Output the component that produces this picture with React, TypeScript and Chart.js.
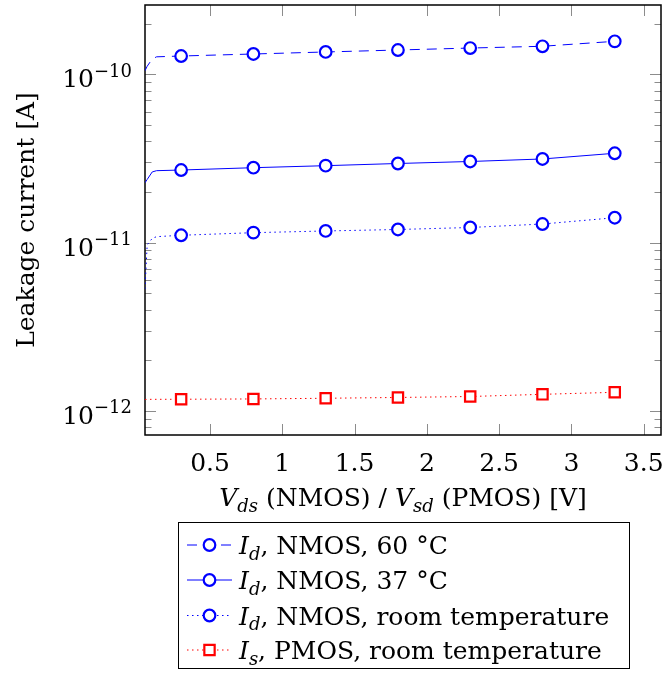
import React, { useEffect, useRef } from 'react';
import { Chart, registerables } from 'chart.js';

Chart.register(...registerables);

// ---- data ----
const startV = [0.05, 0.065, 0.1, 0.13];
const markerV = [0.3, 0.8, 1.3, 1.8, 2.3, 2.8, 3.3];

const id60Start = [1.05e-10, 1.116e-10, 1.233e-10, 1.27e-10];
const id60 = [1.284e-10, 1.32e-10, 1.357e-10, 1.394e-10, 1.432e-10, 1.467e-10, 1.57e-10];

const id37Start = [2.27e-11, 2.372e-11, 2.63e-11, 2.676e-11];
const id37 = [2.7e-11, 2.787e-11, 2.865e-11, 2.952e-11, 3.034e-11, 3.14e-11, 3.395e-11];

const idRTStart = [5.3e-12, 9.7e-12, 1.06e-11, 1.085e-11];
const idRT = [1.106e-11, 1.146e-11, 1.173e-11, 1.197e-11, 1.23e-11, 1.29e-11, 1.406e-11];

const isRTStart = [1.17e-12, 1.172e-12, 1.173e-12, 1.173e-12];
const isRT = [1.174e-12, 1.179e-12, 1.19e-12, 1.203e-12, 1.219e-12, 1.256e-12, 1.291e-12];

const xTicks = [0.5, 1, 1.5, 2, 2.5, 3, 3.5];
const yTicks = [1e-12, 1e-11, 1e-10];
const yTickExponents = ['\u221212', '\u221211', '\u221210'];

const legendTexts = [
  { main: 'I', sub: 'd', rest: ', NMOS, 60 \u00B0C' },
  { main: 'I', sub: 'd', rest: ', NMOS, 37 \u00B0C' },
  { main: 'I', sub: 'd', rest: ', NMOS, room temperature' },
  { main: 'I', sub: 's', rest: ', PMOS, room temperature' },
];

const BLUE = '#0000ff';
const RED = '#ff0000';
const FONT = '"DejaVu Serif", serif';
const FS = 25;

const seriesStyles = [
  { color: BLUE, dash: [10, 7], point: 'circle', radius: 5.8 },
  { color: BLUE, dash: [], point: 'circle', radius: 5.8 },
  { color: BLUE, dash: [1.5, 3.5], point: 'circle', radius: 5.8 },
  { color: RED, dash: [1.5, 3.5], point: 'rect', radius: 7.3 },
];

type Run = { t: string; it?: boolean; sub?: boolean; sup?: boolean };

function drawRuns(ctx: CanvasRenderingContext2D, runs: Run[], x: number, base: number, size: number, align: 'left' | 'center' | 'right') {
  const fontOf = (r: Run) => `${r.it ? 'italic ' : ''}${r.sub || r.sup ? Math.round(size * 0.7) : size}px ${FONT}`;
  let total = 0;
  const ws = runs.map((r) => {
    ctx.font = fontOf(r);
    const w = ctx.measureText(r.t).width;
    total += w;
    return w;
  });
  let cx = align === 'center' ? x - total / 2 : align === 'right' ? x - total : x;
  ctx.textAlign = 'left';
  ctx.textBaseline = 'alphabetic';
  runs.forEach((r, i) => {
    ctx.font = fontOf(r);
    const yy = r.sub ? base + size * 0.22 : r.sup ? base - size * 0.42 : base;
    ctx.fillText(r.t, cx, yy);
    cx += ws[i];
  });
}

function drawMarker(ctx: CanvasRenderingContext2D, style: string, x: number, y: number, r: number, color: string) {
  ctx.save();
  ctx.setLineDash([]);
  ctx.fillStyle = '#fff';
  ctx.strokeStyle = color;
  ctx.lineWidth = 2.2;
  ctx.beginPath();
  if (style === 'rect') {
    const s = r * Math.SQRT1_2;
    ctx.rect(x - s, y - s, 2 * s, 2 * s);
  } else {
    ctx.arc(x, y, r, 0, Math.PI * 2);
  }
  ctx.fill();
  ctx.stroke();
  ctx.restore();
}

const framePlugin = {
  id: 'frameTicks',
  beforeDatasetsDraw(chart: any) {
    const { ctx, chartArea: a, scales } = chart;
    const x = scales.x;
    const y = scales.y;
    ctx.save();
    ctx.strokeStyle = '#8c8c8c';
    ctx.lineWidth = 1;
    ctx.beginPath();
    for (const v of xTicks) {
      const px = Math.round(x.getPixelForValue(v)) + 0.5;
      ctx.moveTo(px, a.bottom);
      ctx.lineTo(px, a.bottom - 11);
      ctx.moveTo(px, a.top);
      ctx.lineTo(px, a.top + 11);
    }
    for (let d = -13; d <= -9; d++) {
      for (let m = 1; m <= 9; m++) {
        const v = m * Math.pow(10, d);
        if (v < y.min || v > y.max) continue;
        const len = m === 1 ? 11 : 6.5;
        const py = Math.round(y.getPixelForValue(v)) + 0.5;
        ctx.moveTo(a.left, py);
        ctx.lineTo(a.left + len, py);
        ctx.moveTo(a.right, py);
        ctx.lineTo(a.right - len, py);
      }
    }
    ctx.stroke();
    ctx.strokeStyle = '#000';
    ctx.lineWidth = 1.5;
    ctx.strokeRect(a.left, a.top, a.right - a.left, a.bottom - a.top);
    ctx.restore();
  },
  afterDraw(chart: any) {
    const { ctx, chartArea: a, scales } = chart;
    const y = scales.y;
    ctx.save();
    ctx.fillStyle = '#000';
    // y tick labels with superscript exponents
    yTicks.forEach((v, i) => {
      const py = y.getPixelForValue(v);
      drawRuns(ctx, [{ t: '10' }, { t: yTickExponents[i], sup: true }], a.left - 13, py + 13, FS, 'right');
    });
    // x-axis title
    drawRuns(
      ctx,
      [
        { t: 'V', it: true },
        { t: 'ds', it: true, sub: true },
        { t: ' (NMOS) / ' },
        { t: 'V', it: true },
        { t: 'sd', it: true, sub: true },
        { t: ' (PMOS) [V]' },
      ],
      (a.left + a.right) / 2,
      506,
      FS,
      'center'
    );
    // legend box
    const bx = 178.5, by = 522.5, bw = 451, bh = 146;
    ctx.strokeStyle = '#000';
    ctx.lineWidth = 1;
    ctx.strokeRect(bx, by, bw, bh);
    const rows = [545, 580, 615.5, 650];
    legendTexts.forEach((lt, i) => {
      const st = seriesStyles[i];
      const cy = rows[i];
      ctx.save();
      ctx.strokeStyle = st.color;
      ctx.lineWidth = 1;
      ctx.setLineDash(st.dash);
      ctx.beginPath();
      ctx.moveTo(187, cy);
      ctx.lineTo(232, cy);
      ctx.stroke();
      ctx.restore();
      drawMarker(ctx, st.point, 209.5, cy, st.radius, st.color);
      ctx.fillStyle = '#000';
      drawRuns(
        ctx,
        [
          { t: lt.main, it: true },
          { t: lt.sub, it: true, sub: true },
          { t: lt.rest },
        ],
        239,
        cy + 9,
        FS,
        'left'
      );
    });
    ctx.restore();
  },
};

function buildData(start: number[], vals: number[]) {
  return startV.map((v, i) => ({ x: v, y: start[i] })).concat(markerV.map((v, i) => ({ x: v, y: vals[i] })));
}
const radii = (r: number) => startV.map(() => 0).concat(markerV.map(() => r));

export default function App() {
  const ref = useRef<HTMLCanvasElement | null>(null);
  useEffect(() => {
    if (!ref.current) return;
    const series = [
      buildData(id60Start, id60),
      buildData(id37Start, id37),
      buildData(idRTStart, idRT),
      buildData(isRTStart, isRT),
    ];
    const chart = new Chart(ref.current, {
      type: 'line',
      data: {
        datasets: series.map((d, i) => {
          const st = seriesStyles[i];
          return {
            label: legendTexts[i].main + legendTexts[i].sub + legendTexts[i].rest,
            data: d,
            borderColor: st.color,
            borderWidth: 1,
            borderDash: st.dash,
            backgroundColor: '#fff',
            pointStyle: st.point as any,
            pointRadius: radii(st.radius),
            pointHoverRadius: radii(st.radius),
            pointBorderWidth: 2.2,
            pointBorderColor: st.color,
            pointBackgroundColor: '#fff',
            tension: 0,
            fill: false,
          };
        }),
      },
      options: {
        animation: false,
        responsive: false,
        maintainAspectRatio: false,
        devicePixelRatio: 1,
        layout: { autoPadding: false, padding: { left: 0, top: 5, right: 2, bottom: 0 } },
        plugins: { legend: { display: false }, tooltip: { enabled: false } },
        events: [],
        scales: {
          x: {
            type: 'linear',
            min: 0.05,
            max: 3.62,
            grid: { display: false, drawTicks: false },
            border: { display: false },
            afterBuildTicks: (s: any) => {
              s.ticks = xTicks.map((v) => ({ value: v }));
            },
            afterFit: (s: any) => {
              s.height = 240;
              s.paddingLeft = 0;
              s.paddingRight = 0;
            },
            ticks: {
              color: '#000',
              font: { family: FONT, size: FS },
              padding: 14,
              maxRotation: 0,
              autoSkip: false,
              callback: (v: any) => String(v),
            },
          },
          y: {
            type: 'logarithmic',
            min: 7.2e-13,
            max: 2.58e-10,
            grid: { display: false, drawTicks: false },
            border: { display: false },
            afterBuildTicks: (s: any) => {
              s.ticks = yTicks.map((v) => ({ value: v }));
            },
            afterFit: (s: any) => {
              s.width = 145;
              s.paddingTop = 0;
              s.paddingBottom = 0;
            },
            ticks: {
              display: false,
            },
            title: {
              display: true,
              text: 'Leakage current [A]',
              color: '#000',
              font: { family: FONT, size: FS },
              padding: { top: 12, bottom: 0 },
            },
          },
        },
      },
      plugins: [framePlugin],
    });
    return () => chart.destroy();
  }, []);
  return (
    <div style={{ position: 'fixed', left: 0, top: 0, width: 663, height: 675, background: '#fff' }}>
      <canvas ref={ref} width={663} height={675} style={{ display: 'block', width: 663, height: 675 }} />
    </div>
  );
}
